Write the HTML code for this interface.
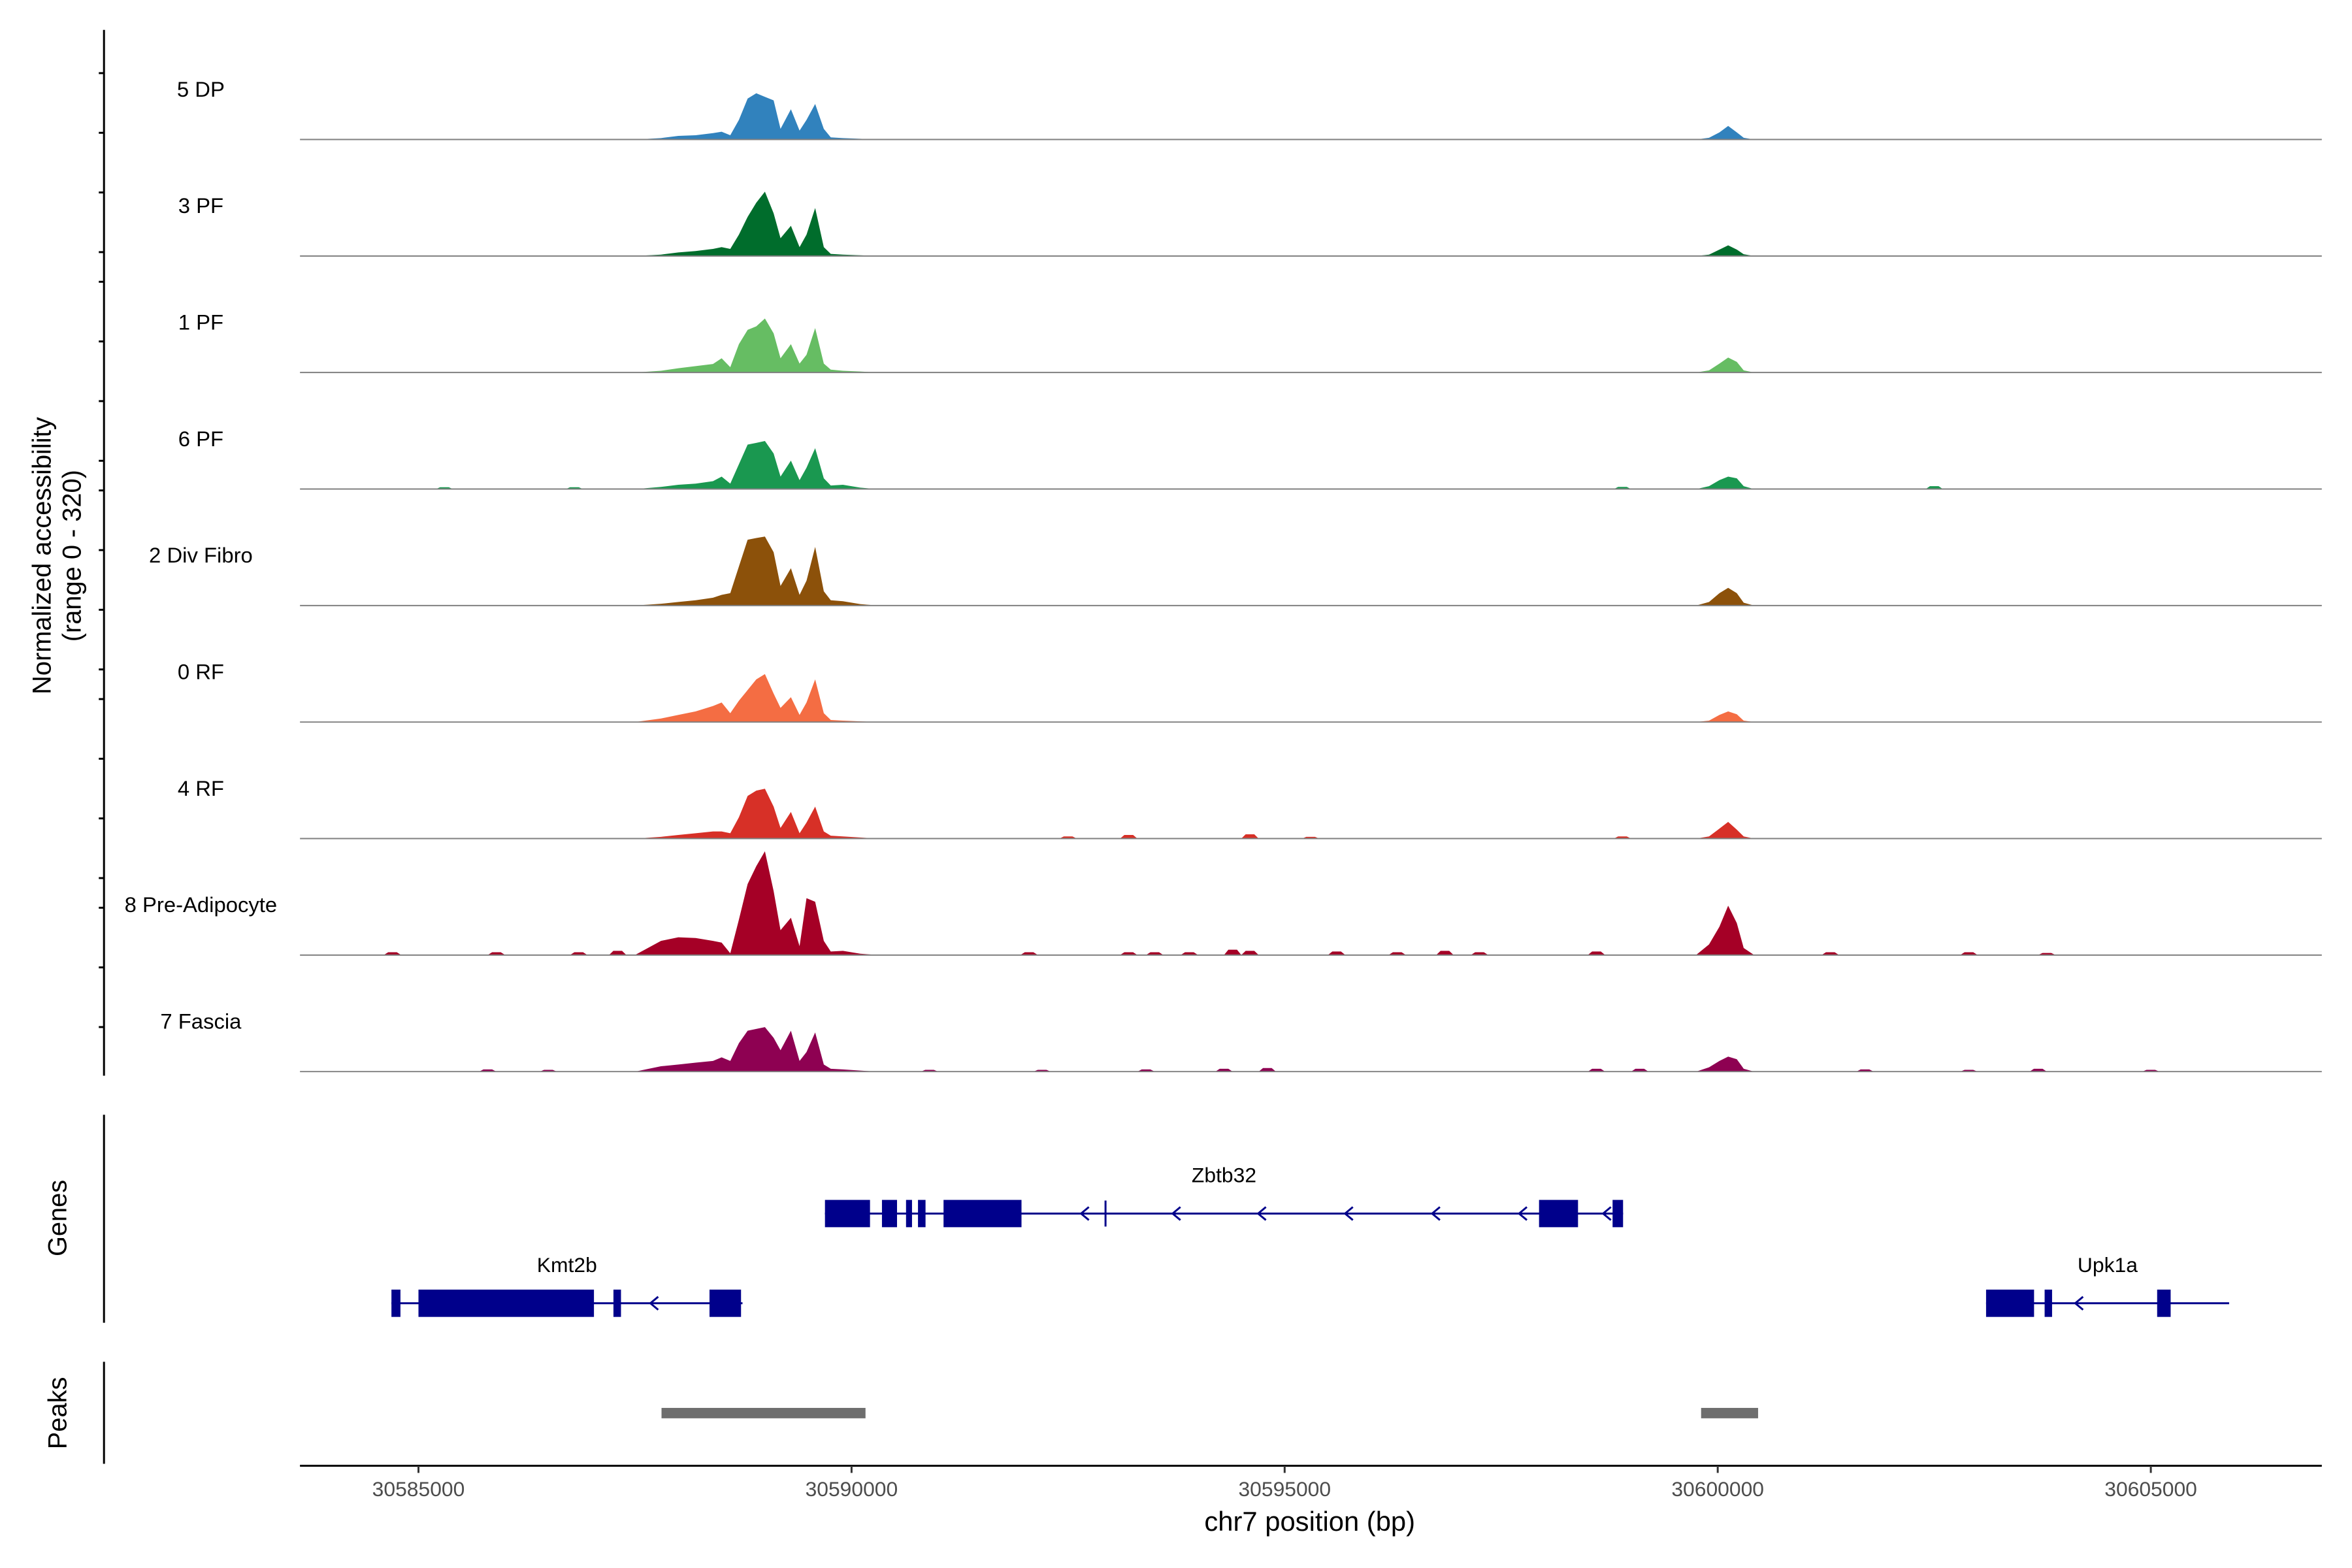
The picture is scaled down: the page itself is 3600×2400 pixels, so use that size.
<!DOCTYPE html>
<html><head><meta charset="utf-8">
<style>
html,body{margin:0;padding:0;background:#fff;}
svg{display:block;font-family:"Liberation Sans",Arial,sans-serif;}
</style></head>
<body>
<svg id="chart" width="3600" height="2400" viewBox="0 0 3600 2400" xmlns="http://www.w3.org/2000/svg">
<rect width="3600" height="2400" fill="#fff"/>
<g transform="scale(0.9949)">
<g id="tracks"></g>
<g id="yaxis"></g>
<text transform="translate(78,855) rotate(-90)" text-anchor="middle" font-size="40">Normalized accessibility</text>
<text transform="translate(124,855) rotate(-90)" text-anchor="middle" font-size="40">(range 0 - 320)</text>
<g id="genes"></g>
<g id="peaks"></g>
<g id="xaxis"></g>
<text x="2015" y="2355" text-anchor="middle" font-size="42">chr7 position (bp)</text>
<text transform="translate(102,1874) rotate(-90)" text-anchor="middle" font-size="40">Genes</text>
<text transform="translate(102,2174) rotate(-90)" text-anchor="middle" font-size="40">Peaks</text>
</g>
</svg>
<script>
const trackNames = ["5 DP","3 PF","1 PF","6 PF","2 Div Fibro","0 RF","4 RF","8 Pre-Adipocyte","7 Fascia"];
const trackColors = ["#3182bd","#006d2c","#66bd63","#1a9850","#8c510a","#f46d43","#d73027","#a50026","#8e0152"];
const mainBp = [30587500,30587800,30588000,30588200,30588400,30588500,30588600,30588700,30588800,30588900,30589000,30589100,30589180,30589300,30589400,30589480,30589580,30589680,30589760,30589900,30590100,30590300];
const main_DP  = [0,4,10,12,18,22,12,55,115,130,120,110,30,85,25,55,100,30,6,4,2,0];
const main_3PF = [0,4,10,14,20,25,20,60,110,150,181,120,50,85,25,60,135,25,6,4,2,0];
const main_1PF = [0,5,12,18,24,40,15,80,120,130,152,110,40,80,25,50,125,25,8,5,3,0];
const main_6PF = [0,6,12,15,22,35,15,70,125,130,135,100,35,80,25,60,115,30,10,12,4,0];
const main_2DF = [0,5,10,15,22,30,35,110,185,190,194,150,55,105,30,70,165,40,15,12,4,0];
const main_0RF = [0,10,20,30,45,55,25,60,90,120,135,80,40,70,20,55,120,25,6,4,2,0];
const main_4RF = [0,5,10,15,20,20,15,60,120,135,140,90,30,75,15,45,90,20,8,6,3,0];
const main_8PA = [0,40,50,48,40,35,5,100,200,250,292,180,70,105,25,160,150,40,10,12,4,0];
const main_7FA = [0,15,20,25,30,40,30,80,115,120,125,95,60,115,30,55,110,20,8,6,3,0];
const mainValues = [main_DP,main_3PF,main_1PF,main_6PF,main_2DF,main_0RF,main_4RF,main_8PA,main_7FA];
const secBp = [30599750,30599900,30600020,30600120,30600220,30600300,30600420];
const sec_DP  = [0,5,20,38,20,5,0];
const sec_3PF = [0,4,18,30,18,5,0];
const sec_1PF = [0,6,25,42,30,6,0];
const sec_6PF = [0,8,25,35,30,8,0];
const sec_2DF = [0,10,35,50,35,8,0];
const sec_0RF = [0,4,20,30,22,4,0];
const sec_4RF = [0,6,28,47,25,6,0];
const sec_8PA = [0,30,80,139,90,20,0];
const sec_7FA = [0,12,30,42,35,8,0];
const secValues = [sec_DP,sec_3PF,sec_1PF,sec_6PF,sec_2DF,sec_0RF,sec_4RF,sec_8PA,sec_7FA];
const bumpBp_8PA = [30584700,30585900,30586850,30587300,30592050,30593200,30593500,30593900,30594400,30594600,30595600,30596300,30596850,30597250,30598600,30601300,30602900,30603800];
const bumpH_8PA = [8,8,8,12,8,8,8,8,15,12,10,8,12,8,10,8,8,6];
const bumpBp_4RF = [30592500,30593200,30594600,30595300,30598900];
const bumpH_4RF = [6,10,12,5,6];
const bumpBp_7FA = [30585800,30586500,30590900,30592200,30593400,30594300,30594800,30598600,30599100,30601700,30602900,30603700,30605000];
const bumpH_7FA = [6,5,5,5,6,8,10,8,8,6,5,8,5];
const bumpBp_6PF = [30585300,30586800,30598900,30602500];
const bumpH_6PF = [5,5,6,8];
const bumpBp = {6:bumpBp_4RF,7:bumpBp_8PA,8:bumpBp_7FA,3:bumpBp_6PF};
const bumpH = {6:bumpH_4RF,7:bumpH_8PA,8:bumpH_7FA,3:bumpH_6PF};

const xTicks = [30585000,30590000,30595000,30600000,30605000];
const genes = ["Zbtb32","Kmt2b","Upk1a"];
const geneStart = [30589693,30584688,30603098];
const geneEnd = [30598907,30588741,30605904];
const geneRow = [0,1,1];
const geneExons = [
 [[30589693,30590213],[30590351,30590525],[30590629,30590698],[30590767,30590854],[30591062,30591962],[30597937,30598387],[30598786,30598907]],
 [[30584688,30584792],[30585000,30587026],[30587251,30587338],[30588360,30588724]],
 [[30603098,30603652],[30603774,30603860],[30605073,30605229]]
];
const geneArrows = [[30592672,30593729,30594716,30595720,30596725,30597729,30598699],[30587700],[30604150]];
const peakStart = [30587806,30599808];
const peakEnd = [30590161,30600466];

const NS="http://www.w3.org/2000/svg";
const X0=461.5, X1=3572, BP0=30583632, BP1=30606974;
function xs(bp){return X0+(bp-BP0)/(BP1-BP0)*(X1-X0);}
const BASE0=214.6, STEP=179.25;
function base(i){return BASE0+i*STEP;}
function ys(v){return v*175/320;}
function mk(tag,attrs,parent){const e=document.createElementNS(NS,tag);for(const k in attrs)e.setAttribute(k,attrs[k]);parent.appendChild(e);return e;}
const tracks=document.getElementById('tracks');
trackNames.forEach((nm,i)=>{
  const b=base(i);
  const g=mk('g',{},tracks);
  
  
  const lab=mk('text',{x:309,y:b-66,'text-anchor':'middle','font-size':33},g);
  lab.textContent=nm;
  
  
  function area(bps,vals,name){
    let d='M'+xs(bps[0]).toFixed(1)+','+b;
    bps.forEach((p,k)=>{d+=' L'+xs(p).toFixed(1)+','+(b-ys(vals[k])).toFixed(1);});
    d+=' L'+xs(bps[bps.length-1]).toFixed(1)+','+b+' Z';
    const pa=mk('path',{d:d,fill:trackColors[i]},g);
    
    
  }
  area(mainBp,mainValues[i],'coverage-main-peak');
  area(secBp,secValues[i],'coverage-second-peak');
  if(bumpBp[i]){bumpBp[i].forEach((p,k)=>{area([p-100,p-50,p+50,p+100],[0,bumpH[i][k],bumpH[i][k],0],'coverage-bump');});}
  const ln=mk('line',{x1:X0,x2:X1,y1:b,y2:b,stroke:'#7f7f7f','stroke-width':2},g);
  
  
});
const ya=document.getElementById('yaxis');
mk('line',{x1:160,x2:160,y1:46,y2:1655,stroke:'#000','stroke-width':3},ya);
for(let g=0;g<6;g++){for(let k=0;k<4;k++){const y=112.5+g*321+k*91.8;if(y<1655){const t=mk('line',{x1:152,x2:160,y1:y,y2:y,stroke:'#000','stroke-width':3},ya);}}}
const gg=document.getElementById('genes');
mk('line',{x1:160,x2:160,y1:1715,y2:2035,stroke:'#000','stroke-width':3},gg);
const rowY=[1867,2005];
genes.forEach((nm,i)=>{
  const y=rowY[geneRow[i]];
  const g=mk('g',{},gg);
  
  
  mk('line',{x1:xs(geneStart[i]),x2:xs(geneEnd[i]),y1:y,y2:y,stroke:'#00008b','stroke-width':3},g);
  geneExons[i].forEach(e=>{mk('rect',{x:xs(e[0]),y:y-21,width:Math.max(xs(e[1])-xs(e[0]),6),height:42,fill:'#00008b'},g);});
  geneArrows[i].forEach(a=>{const x=xs(a);mk('path',{d:`M${x+9},${y-10} L${x-3},${y} L${x+9},${y+10}`,stroke:'#00008b','stroke-width':3,fill:'none'},g);});
  const t=mk('text',{x:(xs(geneStart[i])+xs(geneEnd[i]))/2,y:y-48,'text-anchor':'middle','font-size':32},g);
  t.textContent=nm;
  
  
});
mk('line',{x1:xs(30592932),x2:xs(30592932),y1:1847,y2:1887,stroke:'#00008b','stroke-width':3},gg);
const pg=document.getElementById('peaks');
mk('line',{x1:160,x2:160,y1:2095,y2:2252,stroke:'#000','stroke-width':3},pg);
peakStart.forEach((s,i)=>{const r=mk('rect',{x:xs(s),y:2166,width:xs(peakEnd[i])-xs(s),height:16,fill:'#6e6e6e'},pg);});
const xa=document.getElementById('xaxis');
mk('line',{x1:X0,x2:X1,y1:2255,y2:2255,stroke:'#000','stroke-width':3},xa);
xTicks.forEach(t=>{const x=xs(t);mk('line',{x1:x,x2:x,y1:2255,y2:2266,stroke:'#333','stroke-width':3},xa);const tx=mk('text',{x:x,y:2302,'text-anchor':'middle','font-size':32,fill:'#4d4d4d'},xa);tx.textContent=String(t);});
</script>
</body></html>
